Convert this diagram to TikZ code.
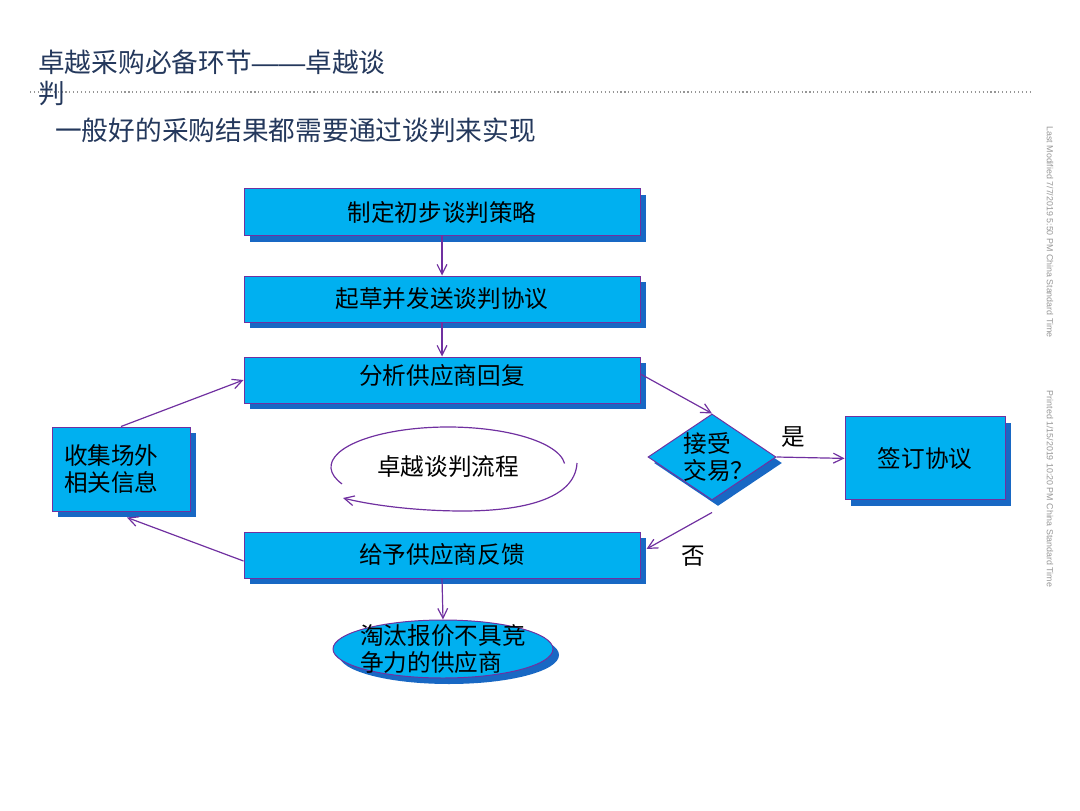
\documentclass[tikz,border=0pt]{standalone}
\usepackage{fontspec}
\setmainfont{Noto Sans CJK SC}
\newfontfamily\stampfont{Liberation Sans}
\usetikzlibrary{shapes.geometric, arrows.meta, shadows, calc}
\definecolor{flowCyan}  {RGB}{  0,176,240}
\definecolor{flowShadow}{RGB}{ 24,104,196}
\definecolor{flowPurple}{RGB}{112, 48,160}
\definecolor{titleNavy} {RGB}{ 36, 56, 92}
\definecolor{stampGray} {RGB}{150,150,150}

\begin{document}
\begin{tikzpicture}[
  box/.style={rectangle, fill=flowCyan, draw=flowPurple, line width=0.7pt,
    align=center, font=\fontsize{16.8pt}{19.8pt}\selectfont,
    drop shadow={shadow xshift=0.15cm, shadow yshift=-0.15cm,
      fill=flowShadow, opacity=1}},
  wide/.style={box, minimum width=9.9cm, minimum height=1.15cm},
  lbl/.style={font=\fontsize{16.8pt}{19.8pt}\selectfont, align=left, inner sep=0pt},
  flow/.style={draw=flowPurple, line width=0.85pt,
    -{Straight Barb[length=7pt,width=7pt]}},
  stamp/.style={font=\stampfont\fontsize{6.3pt}{7pt}\selectfont,
    text=stampGray, rotate=-90},
  head/.style={anchor=west, align=left, inner sep=0pt, text=titleNavy,
    font=\fontsize{19pt}{22pt}\selectfont},
]
\useasboundingbox (0,0) rectangle (27,20.25);

%% ── Header ──────────────────────────────────────────────────────────────────
\draw[stampGray, dotted, line width=0.8pt] (0.75,17.95) -- (25.75,17.95);
\node[head] (title)    at (0.95,18.31) {卓越采购必备环节{\stampfont ——}卓越谈\\判};
\node[head] (subtitle) at (1.375,17.0) {一般好的采购结果都需要通过谈判来实现};

%% ── Main column ─────────────────────────────────────────────────────────────
\node[wide, minimum height=1.175cm] (strategy) at (11.05,14.94) {制定初步谈判策略};
\node[wide] (draft)    at (11.05,12.775) {起草并发送谈判协议};
\node[wide, text depth=0.3cm] (analyse) at (11.05,10.75) {分析供应商回复};
\node[wide] (feedback) at (11.05,6.375)  {给予供应商反馈};

%% ── Side boxes ──────────────────────────────────────────────────────────────
\node[box, minimum width=3.45cm, minimum height=2.1cm, text width=2.85cm,
      inner xsep=0.3cm, align=left] (collect) at (3.025,8.525) {收集场外\\相关信息};
\node[box, minimum width=4cm, minimum height=2.075cm] (sign) at (23.125,8.79) {签订协议};

%% decision diamond (text set on top)
\node[box, diamond, minimum width=3.2cm, minimum height=2.15cm, inner sep=0pt]
  (accept) at (17.8,8.825) {};
\node[lbl] (acceptTxt) at ([xshift=0.17cm]accept) {接受\\交易？};

%% elimination ellipse (text set on top)
\node[box, ellipse, minimum width=5.5cm, minimum height=1.45cm, inner sep=0pt]
  (reject) at (11.075,4.025) {};
\node[lbl] (rejectTxt) at (reject) {淘汰报价不具竞\\争力的供应商};

%% ── Loop in the middle ──────────────────────────────────────────────────────
\node[lbl] (loopTxt) at (11.2,8.575) {卓越谈判流程};
\draw[flowPurple, line width=0.85pt, shift={(loopTxt)}]
  (205:2.925 and 1) arc[start angle=205, end angle=5, x radius=2.925, y radius=1];
\draw[flow, shift={(loopTxt)}]
  (3.225,0.1) .. controls (3.175,-0.825) and (1.8,-1.1) .. (0.375,-1.1)
  .. controls (-0.7,-1.1) and (-1.825,-0.975) .. (-2.625,-0.775);

%% ── Branch labels ───────────────────────────────────────────────────────────
\node[lbl] (yes) at (19.825,9.325) {是};
\node[lbl] (no)  at (17.325,6.35)  {否};

%% ── Connectors ──────────────────────────────────────────────────────────────
\draw[flow] (strategy) -- (draft);
\draw[flow] (draft) -- (analyse);
\draw[flow] ([yshift=0.15cm]analyse.east) -- (accept.north);
\draw[flow] (accept.east) -- (sign.west);
\draw[flow] ([yshift=-0.3cm]accept.south) -- ([shift={(0.15,0.15)}]feedback.east);
\draw[flow] ([yshift=-0.15cm]feedback.west) -- ([shift={(0.15,-0.15)}]collect.south);
\draw[flow] (collect.north) -- (analyse.west);
\draw[flow] (feedback.south) -- (reject.north);

%% ── Side stamps ─────────────────────────────────────────────────────────────
\node[stamp] (modified) at (26.25,14.45) {Last Modified 7/7/2019 5:50 PM China Standard Time};
\node[stamp] (printed)  at (26.25,8.025) {Printed 1/15/2019 10:20 PM China Standard Time};

\end{tikzpicture}
\end{document}
